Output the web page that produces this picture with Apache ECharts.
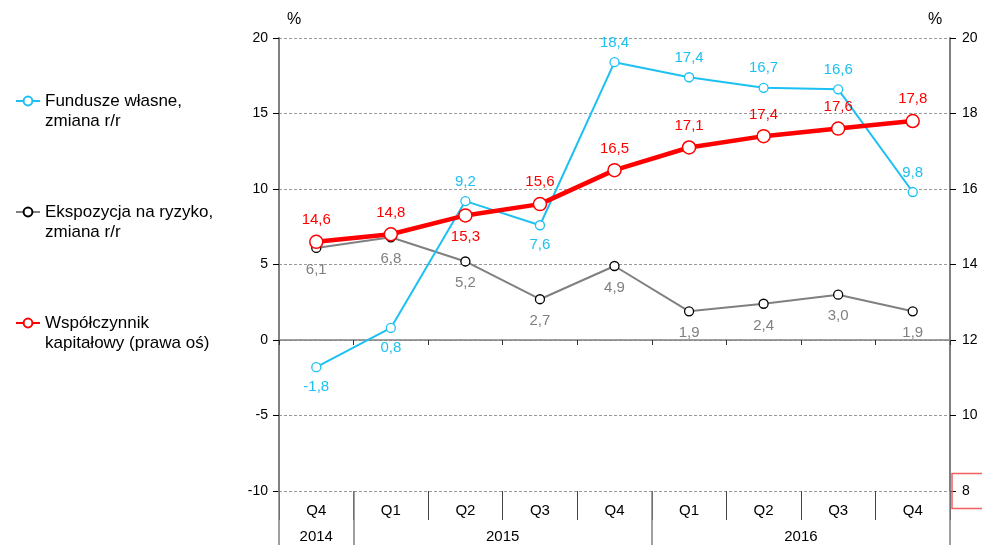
<!DOCTYPE html>
<html>
<head>
<meta charset="utf-8">
<script src="https://cdn.jsdelivr.net/npm/echarts@6/dist/echarts.min.js"></script>
<style>
html, body { margin: 0; padding: 0; background: #fff; }
#chart { width: 982px; height: 545px; }
</style>
</head>
<body>
<div id="chart"></div>
<script>
// dane
var quarters = ['Q4', 'Q1', 'Q2', 'Q3', 'Q4', 'Q1', 'Q2', 'Q3', 'Q4'];
var years = ['2014', '2015', '2016'];
var quartersPerYear = [1, 4, 4];
var fundusze = [-1.8, 0.8, 9.2, 7.6, 18.4, 17.4, 16.7, 16.6, 9.8];
var ekspozycja = [6.1, 6.8, 5.2, 2.7, 4.9, 1.9, 2.4, 3.0, 1.9];
var wspolczynnik = [14.6, 14.8, 15.3, 15.6, 16.5, 17.1, 17.4, 17.6, 17.8];
var leftTicks = { min: -10, max: 20, step: 5 };
var rightTicks = { min: 8, max: 20, step: 2 };

// gdzie wypisac etykiety
var fundLabelSide = ['bottom', 'bottom', 'top', 'bottom', 'top', 'top', 'top', 'top', 'top'];
var ekspLabelSide = ['bottom', 'bottom', 'bottom', 'bottom', 'bottom', 'bottom', 'bottom', 'bottom', 'bottom'];
var wspLabelSide = ['top', 'top', 'bottom', 'top', 'top', 'top', 'top', 'top', 'top'];

var FONT = 'Liberation Sans, Arial, sans-serif';
var CYAN = '#1cc0f2';
var RED = '#ff0000';
var GRAY = '#808080';

function fmt(v) {
  return v.toFixed(1).replace('.', ',');
}
function withSides(vals, sides) {
  return vals.map(function (v, i) {
    return { value: v, label: { position: sides[i] } };
  });
}

// granice lat i srodki etykiet lat
var yearBounds = [0];
var yearCenters = [];
quartersPerYear.forEach(function (n) {
  var s = yearBounds[yearBounds.length - 1];
  yearCenters.push(s + n / 2);
  yearBounds.push(s + n);
});

var chart = echarts.init(document.getElementById('chart'));

// pusta linia na poczatku -> ikonka na wysokosci pierwszej linii tekstu
var legendBase = {
  orient: 'vertical',
  left: 15,
  padding: 0,
  itemWidth: 24,
  itemHeight: 11,
  selectedMode: false,
  formatter: function (name) { return '\n' + name; },
  textStyle: { fontFamily: FONT, fontSize: 17, color: '#000', lineHeight: 20 }
};

var option = {
  animation: false,
  textStyle: { fontFamily: FONT },
  legend: [
    Object.assign({}, legendBase, { top: 71, data: ['Fundusze własne,\nzmiana r/r'] }),
    Object.assign({}, legendBase, { top: 182, data: ['Ekspozycja na ryzyko,\nzmiana r/r'] }),
    Object.assign({}, legendBase, { top: 293, data: ['Współczynnik\nkapitałowy (prawa oś)'] })
  ],
  grid: { left: 279, right: 32, top: 38, bottom: 54, containLabel: false, outerBoundsMode: 'none' },
  xAxis: [
    {
      type: 'category',
      data: quarters,
      boundaryGap: true,
      axisLine: { onZero: true, lineStyle: { color: GRAY, width: 1.5 } },
      axisTick: { show: true, length: 5, lineStyle: { color: '#333' } },
      axisLabel: { show: false },
      splitLine: { show: false }
    },
    {
      type: 'category',
      data: quarters,
      position: 'bottom',
      boundaryGap: true,
      axisLine: { show: false, onZero: false },
      axisTick: { show: true, length: 29, lineStyle: { color: '#444' } },
      axisLabel: { margin: 12, fontSize: 15, color: '#000', fontFamily: FONT },
      splitLine: { show: false }
    },
    {
      type: 'value',
      position: 'bottom',
      min: 0,
      max: quarters.length,
      axisLine: { show: false, onZero: false },
      axisTick: {
        show: true,
        length: 56,
        customValues: yearBounds,
        lineStyle: { color: GRAY, width: 1.5 }
      },
      axisLabel: {
        margin: 38,
        fontSize: 15,
        color: '#000',
        fontFamily: FONT,
        customValues: yearCenters,
        formatter: function (v) {
          return years[yearCenters.indexOf(v)] || '';
        }
      },
      splitLine: { show: false }
    }
  ],
  yAxis: [
    {
      type: 'value',
      min: leftTicks.min,
      max: leftTicks.max,
      interval: leftTicks.step,
      name: '%',
      nameLocation: 'end',
      nameGap: 10,
      nameTextStyle: { fontSize: 16, color: '#000', fontFamily: FONT, padding: [0, 0, 0, 30] },
      axisLine: { show: true, onZero: false, lineStyle: { color: GRAY, width: 2 } },
      axisTick: { show: true, length: 6, lineStyle: { color: '#000' } },
      axisLabel: { margin: 11, fontSize: 14, color: '#000', fontFamily: FONT },
      splitLine: { show: true, lineStyle: { color: '#9a9a9a', type: [3, 2], width: 1 } }
    },
    {
      type: 'value',
      min: rightTicks.min,
      max: rightTicks.max,
      interval: rightTicks.step,
      position: 'right',
      name: '%',
      nameLocation: 'end',
      nameGap: 10,
      nameTextStyle: { fontSize: 16, color: '#000', fontFamily: FONT, padding: [0, 30, 0, 0] },
      axisLine: { show: true, onZero: false, lineStyle: { color: GRAY, width: 2 } },
      axisTick: { show: true, length: 6, lineStyle: { color: '#000' } },
      axisLabel: {
        margin: 2,
        fontSize: 14,
        color: '#000',
        fontFamily: FONT,
        formatter: function (v) {
          return v === rightTicks.min ? '{box|' + v + '}' : '{n|' + v + '}';
        },
        rich: {
          n: {
            fontSize: 14,
            color: '#000',
            fontFamily: FONT,
            padding: [0, 0, 0, 10]
          },
          box: {
            fontSize: 14,
            color: '#000',
            fontFamily: FONT,
            borderColor: '#f06060',
            borderWidth: 1.5,
            padding: [11, 30, 10, 10]
          }
        }
      },
      splitLine: { show: false }
    }
  ],
  series: [
    {
      name: 'Fundusze własne,\nzmiana r/r',
      type: 'line',
      xAxisIndex: 0,
      yAxisIndex: 0,
      data: withSides(fundusze, fundLabelSide),
      symbol: 'circle',
      symbolSize: 9,
      lineStyle: { color: CYAN, width: 2 },
      itemStyle: { color: '#fff', borderColor: CYAN, borderWidth: 1.3 },
      label: {
        show: true, distance: 7, fontSize: 15, color: CYAN, fontFamily: FONT,
        formatter: function (p) { return fmt(p.value); }
      },
      z: 3
    },
    {
      name: 'Ekspozycja na ryzyko,\nzmiana r/r',
      type: 'line',
      xAxisIndex: 0,
      yAxisIndex: 0,
      data: withSides(ekspozycja, ekspLabelSide),
      symbol: 'circle',
      symbolSize: 9,
      lineStyle: { color: GRAY, width: 2 },
      itemStyle: { color: '#fff', borderColor: '#000', borderWidth: 1.3 },
      label: {
        show: true, distance: 9, fontSize: 15, color: GRAY, fontFamily: FONT,
        formatter: function (p) { return fmt(p.value); }
      },
      z: 2
    },
    {
      name: 'Współczynnik\nkapitałowy (prawa oś)',
      type: 'line',
      xAxisIndex: 0,
      yAxisIndex: 1,
      data: withSides(wspolczynnik, wspLabelSide),
      symbol: 'circle',
      symbolSize: 13,
      lineStyle: { color: RED, width: 4.5 },
      itemStyle: { color: '#fff', borderColor: RED, borderWidth: 1.5 },
      label: {
        show: true, distance: 7, fontSize: 15, color: RED, fontFamily: FONT,
        formatter: function (p) { return fmt(p.value); }
      },
      z: 4
    }
  ]
};

chart.setOption(option);
</script>
</body>
</html>
